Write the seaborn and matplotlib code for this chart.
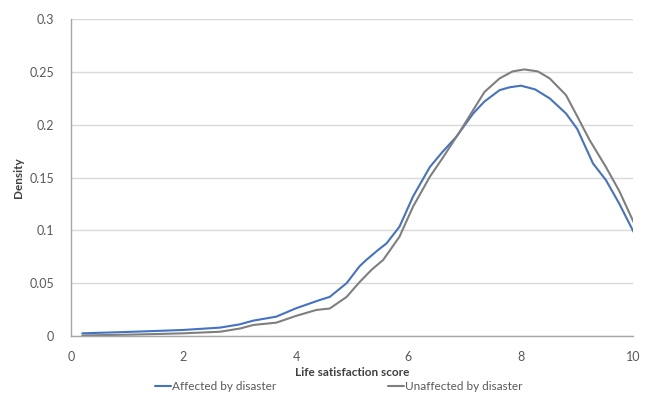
import numpy as np
import pandas as pd
import matplotlib
matplotlib.use("Agg")
import matplotlib.pyplot as plt
import seaborn as sns

# values
x_affected = [0.2, 1.0, 1.5, 2.0, 2.65, 3.0, 3.24, 3.65, 4.0, 4.42, 4.6, 4.9, 5.13, 5.25,
              5.45, 5.61, 5.84, 6.08, 6.38, 6.6, 6.85, 7.15, 7.35, 7.62, 7.8, 8.0, 8.25,
              8.51, 8.8, 9.0, 9.28, 9.51, 9.75, 10.0]
y_affected = [0.0025, 0.0038, 0.0047, 0.0057, 0.0079, 0.011, 0.0145, 0.0183, 0.0262, 0.034, 0.037,
              0.05, 0.066, 0.072, 0.081, 0.0877, 0.1035, 0.132, 0.160, 0.174, 0.1886, 0.2107,
              0.222, 0.2328, 0.2355, 0.237, 0.2335, 0.225, 0.2107, 0.196, 0.1634, 0.1476,
              0.125, 0.0987]

x_unaffected = [0.2, 1.0, 1.5, 2.0, 2.65, 3.0, 3.24, 3.65, 4.0, 4.36, 4.6, 4.9, 5.13, 5.35,
                5.55, 5.84, 6.08, 6.38, 6.6, 6.91, 7.15, 7.35, 7.62, 7.85, 8.06, 8.3, 8.51,
                8.8, 9.0, 9.22, 9.51, 9.75, 10.0]
y_unaffected = [0.0005, 0.0012, 0.0018, 0.0025, 0.004, 0.007, 0.0104, 0.0126, 0.019, 0.0246, 0.026,
                0.037, 0.051, 0.063, 0.072, 0.094, 0.1224, 0.1508, 0.168, 0.1933, 0.2139,
                0.231, 0.2439, 0.2505, 0.2524, 0.2505, 0.2439, 0.2281, 0.208, 0.1855, 0.160,
                0.137, 0.108]

labels = ["Affected by disaster", "Unaffected by disaster"]
colors = ["#4472C4", "#7F7F7F"]

df = pd.concat([
    pd.DataFrame({"score": x_affected, "density": y_affected, "group": labels[0]}),
    pd.DataFrame({"score": x_unaffected, "density": y_unaffected, "group": labels[1]}),
])

sns.set_style("white")
plt.rcParams["font.family"] = ["Lato", "DejaVu Sans"]

fig = plt.figure(figsize=(6.48, 3.99), dpi=100)
ax = fig.add_axes([0.1096, 0.158, 0.868, 0.794])

sns.lineplot(data=df, x="score", y="density", hue="group", palette=colors,
             linewidth=1.5, ax=ax, legend=False, sort=False)

ax.set_xlim(0, 10)
ax.set_ylim(0, 0.3)
ax.set_xticks([0, 2, 4, 6, 8, 10])
ax.set_yticks([0, 0.05, 0.1, 0.15, 0.2, 0.25, 0.3])
ax.set_yticklabels(["0", "0.05", "0.1", "0.15", "0.2", "0.25", "0.3"])
ax.yaxis.grid(True, color="#D9D9D9", linewidth=1)
ax.set_axisbelow(True)
for s in ["top", "right"]:
    ax.spines[s].set_visible(False)
for s in ["left", "bottom"]:
    ax.spines[s].set_color("#A6A6A6")
    ax.spines[s].set_linewidth(1)
ax.tick_params(axis="x", length=5, color="#A6A6A6", labelsize=9, labelcolor="#595959", pad=6)
ax.tick_params(axis="y", length=0, labelsize=9, labelcolor="#595959", pad=12)

ax.set_xlabel("Life satisfaction score", fontsize=8.5, fontweight="bold", color="#404040", labelpad=3)
ax.set_ylabel("Density", fontsize=8.5, fontweight="bold", color="#404040", labelpad=4)

handles = [plt.Line2D([], [], color=c, linewidth=1.5) for c in colors]
fig.legend(handles, labels, loc="lower center", bbox_to_anchor=(0.523, -0.01), ncol=2,
           frameon=False, fontsize=8.5, handlelength=1.3, handletextpad=0.1,
           columnspacing=9.5, labelcolor="#595959")

fig.savefig("out.png", dpi=100)
